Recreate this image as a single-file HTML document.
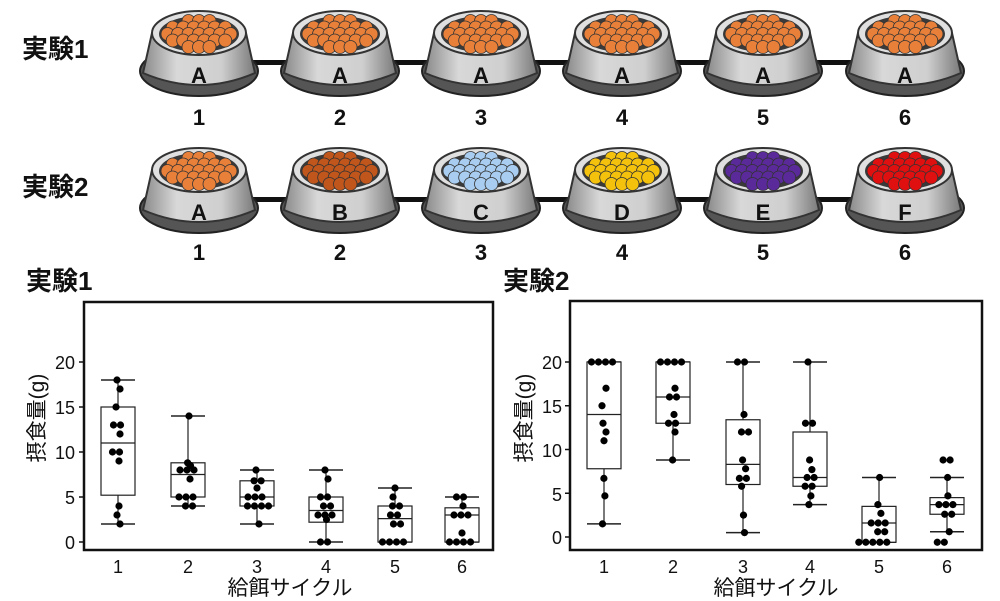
<!DOCTYPE html>
<html><head><meta charset="utf-8"><style>
html,body{margin:0;padding:0;background:#fff;}
svg{display:block;font-family:"Liberation Sans","Noto Sans CJK JP",sans-serif;}
.t{font-weight:bold;font-size:26px;fill:#111;}
.n{font-weight:bold;font-size:22px;fill:#111;text-anchor:middle;}
.l{font-weight:bold;font-size:22px;fill:#111;text-anchor:middle;}
.ax{font-size:18px;fill:#111;}
.big{font-size:21px;}
</style></head><body>
<svg id="s" width="1000" height="601" viewBox="0 0 1000 601">
<defs>
<linearGradient id="g" x1="0" x2="1"><stop offset="0" stop-color="#8a8a8a"/><stop offset="0.3" stop-color="#d8d8d8"/><stop offset="0.7" stop-color="#cfcfcf"/><stop offset="1" stop-color="#7a7a7a"/></linearGradient>
</defs>
<g id="shapes"></g>
<text class="t" x="22" y="58">実験1</text>
<text class="t" x="22" y="196">実験2</text>
<text class="t" x="26" y="290">実験1</text>
<text class="t" x="503" y="290">実験2</text>
<g class="ax" text-anchor="end">
<text x="75" y="369">20</text>
<text x="75" y="414">15</text><text x="75" y="459">10</text><text x="75" y="504">5</text><text x="75" y="549">0</text>
<text x="562" y="369">20</text><text x="562" y="413">15</text><text x="562" y="457">10</text><text x="562" y="501">5</text><text x="562" y="544">0</text>
</g>
<g class="ax" text-anchor="middle">
<text x="118" y="573">1</text><text x="188" y="573">2</text><text x="257" y="573">3</text><text x="326" y="573">4</text><text x="395" y="573">5</text><text x="462" y="573">6</text>
<text x="604" y="573">1</text><text x="673" y="573">2</text><text x="743" y="573">3</text><text x="810" y="573">4</text><text x="879" y="573">5</text><text x="947" y="573">6</text>
<text class="big" x="290" y="595">給餌サイクル</text>
<text class="big" x="776" y="595">給餌サイクル</text>
</g>
<text class="ax big" transform="translate(44,418) rotate(-90)" text-anchor="middle">摂食量(g)</text>
<text class="ax big" transform="translate(531,418) rotate(-90)" text-anchor="middle">摂食量(g)</text>
<g class="n">
<text x="199" y="125">1</text><text x="340" y="125">2</text><text x="481" y="125">3</text><text x="622" y="125">4</text><text x="763" y="125">5</text><text x="905" y="125">6</text>
<text x="199" y="260">1</text><text x="340" y="260">2</text><text x="481" y="260">3</text><text x="622" y="260">4</text><text x="763" y="260">5</text><text x="905" y="260">6</text>
</g>
<g class="l">
<text x="199" y="83">A</text><text x="340" y="83">A</text><text x="481" y="83">A</text><text x="622" y="83">A</text><text x="763" y="83">A</text><text x="905" y="83">A</text>
<text x="199" y="220">A</text><text x="340" y="220">B</text><text x="481" y="220">C</text><text x="622" y="220">D</text><text x="763" y="220">E</text><text x="905" y="220">F</text>
</g>
</svg>
<script>
var NS="http://www.w3.org/2000/svg",G=document.getElementById("shapes");
function el(t,a,p){var e=document.createElementNS(NS,t);for(var k in a)e.setAttribute(k,a[k]);(p||G).appendChild(e);return e;}
var xs=[199,340,481,622,763,905];
function bowl(cx,C,col){
 el("ellipse",{cx:cx,cy:C+38,rx:59,ry:25,fill:"#555",stroke:"#222","stroke-width":2});
 el("path",{d:"M"+(cx-47)+","+C+" L"+(cx-56)+","+(C+40)+" Q"+cx+","+(C+64)+" "+(cx+56)+","+(C+40)+" L"+(cx+47)+","+C+" Z",fill:"url(#g)",stroke:"#333","stroke-width":2});
 el("ellipse",{cx:cx,cy:C,rx:47,ry:22,fill:"#e0e0e0",stroke:"#333","stroke-width":2});
 el("ellipse",{cx:cx,cy:C+1,rx:40,ry:18,fill:"#3a3a3a"});
 for(var j=-2;j<=2;j++){for(var i=-4;i<=4;i++){var x=cx+i*10.5+(j%2?5.2:0),y=C+1+j*6.5;if(((x-cx)/36)**2+((y-C-1)/15)**2>1)continue;el("circle",{cx:x,cy:y,r:6.5,fill:col,stroke:"#333","stroke-width":0.8});}}
}
el("rect",{x:199,y:60,width:706,height:5,fill:"#111"});
el("rect",{x:199,y:197,width:706,height:5,fill:"#111"});
var c2=["#e8803a","#c0561c","#a8cdf0","#f4c20c","#5a2a9a","#e01010"];
xs.forEach(function(x,i){bowl(x,33,"#e8803a");bowl(x,170,c2[i]);});
function plot(fx,fy,fw,fh,y20,y0,cx,data){
 el("rect",{x:fx,y:fy,width:fw,height:fh,fill:"none",stroke:"#111","stroke-width":2.5});
 var sc=(y0-y20)/20;function Y(v){return y0-v*sc;}
 [0,5,10,15,20].forEach(function(v){el("line",{x1:fx-5,x2:fx,y1:Y(v),y2:Y(v),stroke:"#111","stroke-width":1.5});});
 data.forEach(function(d,i){var x=cx[i];
  el("line",{x1:x,x2:x,y1:Y(d[0]),y2:Y(d[4]),stroke:"#222","stroke-width":1.2});
  el("line",{x1:x-17,x2:x+17,y1:Y(d[0]),y2:Y(d[0]),stroke:"#222","stroke-width":1.5});
  el("line",{x1:x-17,x2:x+17,y1:Y(d[4]),y2:Y(d[4]),stroke:"#222","stroke-width":1.5});
  el("rect",{x:x-17,y:Y(d[3]),width:34,height:Y(d[1])-Y(d[3]),fill:"#fff",stroke:"#222","stroke-width":1.2});
  el("line",{x1:x-17,x2:x+17,y1:Y(d[2]),y2:Y(d[2]),stroke:"#222","stroke-width":1.2});
  var cnt={};d[5].forEach(function(v){var k=v;cnt[k]=(cnt[k]||0);var n=d[5].filter(function(q){return q==v}).length;var o=(cnt[k]-(n-1)/2)*7;cnt[k]++;
   el("circle",{cx:x+o+((v*7)%5-2),cy:Y(v),r:3.6,fill:"#000"});});
 });
}
plot(84,302,409,248,362,542,[118,188,257,326,395,462],[
[2,5.2,11,15,18,[18,17,15,13,13,12,10,10,9,4,3,2]],
[4,5,7.5,8.8,14,[14,8.8,8.5,8,8,8,7,5,5,5,4,4]],
[2,4,5,6.8,8,[8,6.8,6.8,6,5,5,5,4,4,4,4,2]],
[0,2.2,3.5,5,8,[8,7,5,5,4,4,3,3,3,2.5,0,0]],
[0,0,2.6,4,6,[6,5,4,4,3,3,2,2,0,0,0,0]],
[0,0,3,3.8,5,[5,5,4,3,3,3,1,0,0,0,0]]]);
plot(570,301,412,249,362,537,[604,673,743,810,879,947],[
[1.5,7.8,14,20,20,[20,20,20,20,17,15,13,12,11,6.7,4.7,1.5]],
[8.8,13,16,20,20,[20,20,20,20,17,16,16,14,13,13,12,8.8]],
[0.5,6,8.3,13.4,20,[20,20,14,12,12,8.8,7.8,6.7,6.7,5.8,2.5,0.5]],
[3.7,5.8,6.8,12,20,[20,13,13,8.8,7.7,6.8,6.8,5.8,5.8,4.7,3.7]],
[-0.6,-0.6,1.6,3.5,6.8,[6.8,3.7,2.7,1.6,1.6,1.6,0.6,0.6,-0.6,-0.6,-0.6,-0.6,-0.6]],
[0.6,2.6,3.7,4.5,6.8,[8.8,8.8,6.8,4.7,3.7,3.7,3.7,2.6,2.6,0.6,-0.6,-0.6]]]);
</script>
</body></html>
